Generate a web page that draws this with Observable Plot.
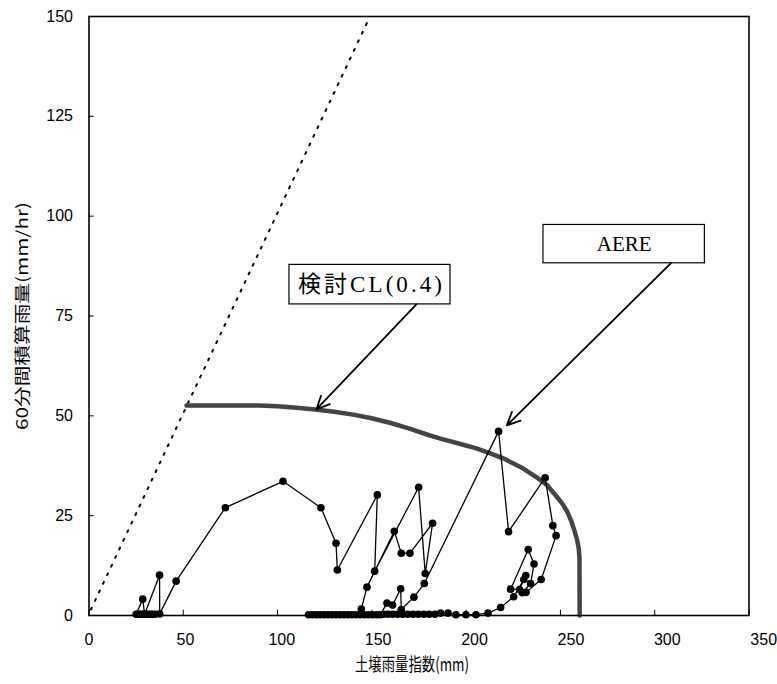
<!DOCTYPE html>
<html><head><meta charset="utf-8">
<script src="https://cdn.jsdelivr.net/npm/d3@7"></script>
<script src="https://cdn.jsdelivr.net/npm/@observablehq/plot@0.6"></script>
<style>body{margin:0;background:#fff;} #chart svg{display:block;}</style>
</head><body><div id="chart"></div>
<script>
// ---- data ----
const xTicks = [0, 50, 100, 150, 200, 250, 300, 350];
const yTicks = [0, 25, 50, 75, 100, 125, 150];
const xTitle = "土壌雨量指数(mm)";
const yTitle = "60分間積算雨量(mm/hr)";

// dotted reference line
const dottedX = [1, 149];
const dottedY = [1.5, 150];

// 検討CL(0.4) curve
const clX = [51.7, 70, 90, 100, 110, 120, 130, 140, 150, 160, 170, 180, 186.4, 195, 205, 212.8, 220, 230.3, 238, 243.0, 248, 251, 253.6, 255.8, 257.6, 258.9, 259.7, 260.1, 260.2];
const clY = [52.6, 52.6, 52.6, 52.4, 52.0, 51.6, 51.0, 50.3, 49.4, 48.2, 46.8, 45.2, 44.3, 43.2, 41.9, 40.6, 39.3, 36.8, 34.4, 32.6, 29.8, 28.0, 26.0, 23.6, 21.0, 18.8, 16.8, 14.5, 0];

// AERE series, event 1
const ev1X = [35.0, 33.6, 32.4, 31.3, 30.3, 29.3, 28.3, 27.4, 26.6, 25.8, 25.0, 28.5, 29.5, 37.4, 37.5, 46.2, 72.3, 102.9, 123.0, 131.0, 131.7, 152.9, 151.5, 174.8, 178.3, 182.2, 170.2, 165.6, 161.9, 147.4, 144.4];
const ev1Y = [0.3, 0.3, 0.3, 0.3, 0.3, 0.3, 0.3, 0.3, 0.3, 0.3, 0.3, 4.1, 0.3, 10.1, 0.4, 8.6, 27.0, 33.6, 27.0, 18.1, 11.4, 30.2, 11.1, 32.1, 10.5, 23.1, 15.6, 15.6, 21.1, 7.1, 1.6];

// AERE series, event 2
const ev2X = [116.4, 118.5, 120.6, 122.7, 124.8, 126.9, 129.0, 131.1, 133.2, 135.3, 137.4, 139.5, 141.6, 143.8, 146.0, 148.2, 150.4, 152.6, 154.5,
  158.0, 161.0, 165.3, 165.6, 172.3, 177.8, 217.2, 222.5, 241.9, 246.0, 247.7, 239.8, 231.8, 229.8, 234.2, 236.0, 232.9, 223.6, 228.3, 231.6, 230.6, 225.2, 218.3, 211.6,
  205.2, 199.9, 194.6, 190.4, 186.5, 183.4, 180.4, 177.5, 174.6, 171.8, 169.0, 166.3, 163.7, 161.1, 158.6, 156.2];
const ev2Y = [0.2, 0.2, 0.2, 0.2, 0.2, 0.2, 0.2, 0.2, 0.2, 0.2, 0.2, 0.2, 0.2, 0.2, 0.2, 0.2, 0.2, 0.2, 0.2,
  3.1, 2.6, 6.7, 1.5, 4.6, 8.0, 46.1, 21.0, 34.5, 22.5, 20.0, 9.0, 5.8, 5.7, 8.0, 12.9, 16.5, 6.6, 6.5, 10.0, 9.0, 4.7, 2.0, 0.6,
  0.2, 0.2, 0.2, 0.6, 0.6, 0.3, 0.3, 0.3, 0.3, 0.3, 0.3, 0.3, 0.3, 0.3, 0.3, 0.3];

// annotation boxes (data units)
const boxLabels = ["検討CL(0.4)", "AERE"];
const boxX1 = [106.3, 241.0];
const boxX2 = [191.7, 326.6];
const boxY1 = [77.9, 88.2];
const boxY2 = [87.8, 97.8];
// arrows from box to target
const arrowX1 = [173.6, 308.5];
const arrowY1 = [77.9, 88.2];
const arrowX2 = [120.6, 221.6];
const arrowY2 = [51.6, 47.6];

// ---- build tables ----
const dotted = dottedX.map((x, i) => ({x, y: dottedY[i]}));
const cl = clX.map((x, i) => ({x, y: clY[i]}));
const aere = [
  ...ev1X.map((x, i) => ({x, y: ev1Y[i], ev: 1})),
  ...ev2X.map((x, i) => ({x, y: ev2Y[i], ev: 2}))
];
const boxes = boxLabels.map((label, i) => ({label, x1: boxX1[i], x2: boxX2[i], y1: boxY1[i], y2: boxY2[i]}));
const arrows = arrowX1.map((x1, i) => ({x1, y1: arrowY1[i], x2: arrowX2[i], y2: arrowY2[i]}));

const cjk = "'Noto Sans CJK JP', 'Noto Sans', sans-serif";
const serif = "'Liberation Serif', 'DejaVu Serif', 'Noto Sans CJK JP', serif";

// x tick labels in the reference sit slightly wider apart than the ticks
const xLabelAxes = xTicks.map((t, i) =>
  Plot.axisX([t], {tickSize: 0, tickPadding: 18, label: null, fontSize: 16, dx: i * 2.1}));

const chart = Plot.plot({
  width: 777,
  height: 684,
  marginLeft: 88.5,
  marginRight: 28.5,
  marginTop: 16,
  marginBottom: 69,
  x: {domain: [0, 350]},
  y: {domain: [0, 150]},
  style: {fontFamily: "'Liberation Sans', Arial, sans-serif", fontSize: "16px", background: "white", color: "black"},
  marks: [
    Plot.line(dotted, {x: "x", y: "y", stroke: "black", strokeWidth: 2, strokeDasharray: "2,7.5"}),
    Plot.line(cl, {x: "x", y: "y", stroke: "#444", strokeWidth: 4.5, strokeLinejoin: "round"}),
    Plot.line(aere, {x: "x", y: "y", z: "ev", stroke: "black", strokeWidth: 1.3}),
    Plot.dot(aere, {x: "x", y: "y", r: 3.8, fill: "black", stroke: null}),
    Plot.ruleX(xTicks, {x: d => d, y1: 0, y2: 1.3, stroke: "black", strokeWidth: 1}),
    Plot.ruleY(yTicks, {y: d => d, x1: 0, x2: 2.7, stroke: "black", strokeWidth: 1}),
    Plot.frame({stroke: "black", strokeWidth: 1.6}),
    ...xLabelAxes,
    Plot.axisY({ticks: yTicks, tickSize: 0, tickPadding: 16, label: null, fontSize: 16}),
    Plot.text([xTitle], {frameAnchor: "bottom", lineAnchor: "middle", dy: 50, dx: -7, fontFamily: cjk, fontSize: 18}),
    Plot.text([yTitle], {frameAnchor: "left", textAnchor: "middle", lineAnchor: "middle", dx: -66, rotate: -90, fontFamily: cjk, fontSize: 16}),
    Plot.rect(boxes, {x1: "x1", x2: "x2", y1: "y1", y2: "y2", fill: "white", stroke: "black", strokeWidth: 1.2}),
    Plot.text(boxes, {x: d => (d.x1 + d.x2) / 2, y: d => (d.y1 + d.y2) / 2, text: "label", fontFamily: serif, fontSize: 21}),
    Plot.arrow(arrows, {x1: "x1", y1: "y1", x2: "x2", y2: "y2", stroke: "black", strokeWidth: 1.8, headLength: 12, headAngle: 50})
  ]
});
document.getElementById("chart").appendChild(chart);

// fit a few texts to the lengths seen in the reference
d3.select(chart).selectAll("text").each(function () {
  const t = this.textContent;
  if (t === xTitle) {
    this.setAttribute("textLength", 114);
    this.setAttribute("lengthAdjust", "spacingAndGlyphs");
  } else if (t === yTitle) {
    this.setAttribute("textLength", 228);
    this.setAttribute("lengthAdjust", "spacingAndGlyphs");
  } else if (t === boxLabels[0]) {
    this.setAttribute("font-size", 23);
    this.setAttribute("textLength", 144);
    this.setAttribute("lengthAdjust", "spacing");
  }
});
</script>
</body></html>
